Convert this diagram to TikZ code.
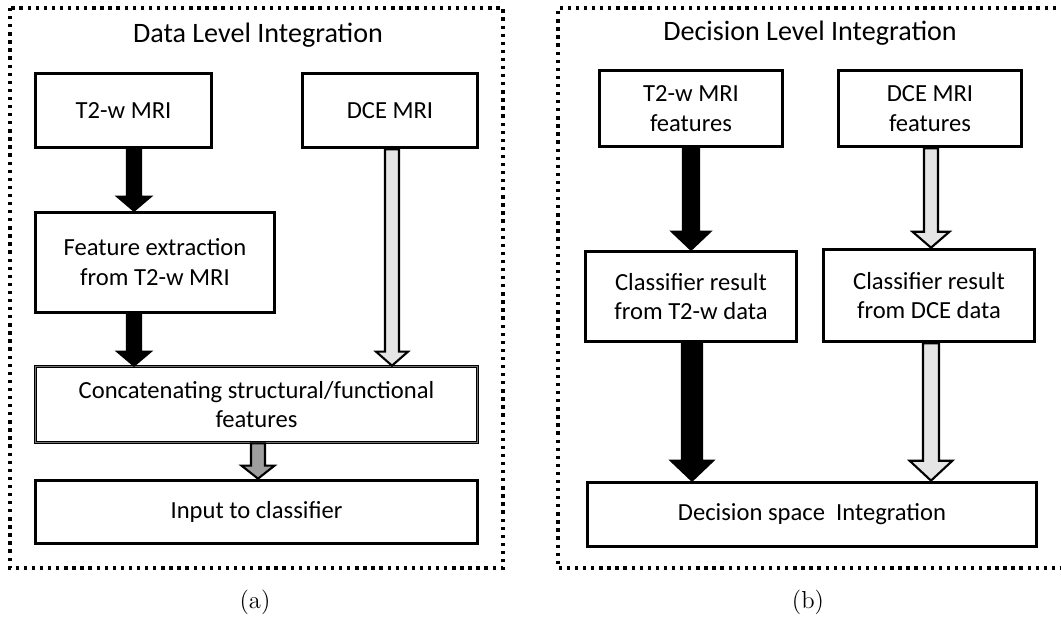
\documentclass[tikz,border=0pt]{standalone}
\usepackage{fontspec}
\newfontfamily\boxfont{Carlito}
\usetikzlibrary{calc}

\def\pxu{0.5669pt}
% block arrow: [fill]{from}{to}{x}{shaft half}{head half}{head length}
\newcommand{\fatarrow}[7][black]{%
  \path[draw=black, line width=1.2pt, fill=#1]
    let \p1=(#2.south), \p2=(#3.north), \p3=(#4,0) in
    (\x3-#5*\pxu,\y1) -- (\x3-#5*\pxu,\y2+#7*\pxu) -- (\x3-#6*\pxu,\y2+#7*\pxu)
    -- (\x3,\y2) -- (\x3+#6*\pxu,\y2+#7*\pxu) -- (\x3+#5*\pxu,\y2+#7*\pxu)
    -- (\x3+#5*\pxu,\y1) -- cycle;}

\tikzset{
  stage/.style={draw, line width=1.7pt, fill=white, align=center, inner sep=0pt,
    font=\boxfont\fontsize{14pt}{17pt}\selectfont},
  dims/.style 2 args={minimum width=#1*\pxu, minimum height=#2*\pxu},
  frame/.style={line width=1.9pt, dash pattern=on 1.9pt off 2.7pt},
  heading/.style={font=\boxfont\fontsize{16pt}{19pt}\selectfont},
  caption/.style={font=\fontsize{14pt}{17pt}\selectfont}
}

\begin{document}
\begin{tikzpicture}[x=0.02cm, y=-0.02cm]
  \useasboundingbox (0,0) rectangle (1061,621);

  % (a) data level
  \draw[frame] (10,8) rectangle (503,568);
  \node[heading] (titlea) at (258,35) {Data Level Integration};
  \node[stage, dims={177}{75}] (t2) at (123.5,110.5) {T2-w MRI};
  \node[stage, dims={176}{75}] (dce) at (390,110.5) {DCE MRI};
  \node[stage, dims={240}{101}] (feat) at (155,262.5)
    {Feature extraction\\from T2-w MRI};
  \node[stage, line width=0.6pt, double=black!55, double distance=0.6pt, dims={443}{77}] (concat)
    at (256.5,404.5) {Concatenating structural/functional\\features};
  \node[stage, dims={443}{64}] (input) at (256.5,512) {Input to classifier};
  \node[caption] (capa) at (255,602) {(a)};

  \fatarrow{t2}{feat}{134}{7}{16.5}{14}
  \fatarrow{feat}{concat}{134}{7}{16.5}{14}
  \fatarrow[black!10]{dce}{concat}{392}{7}{16}{14}
  \fatarrow[black!38]{concat}{input}{258}{7}{16.5}{13}

  % (b) decision level
  \draw[frame] (1064,8) -- (558,8) -- (558,568) -- (1064,568);
  \node[heading] (titleb) at (810,33) {Decision Level Integration};
  \node[stage, dims={184}{77}] (t2f) at (691,108.5) {T2-w MRI\\features};
  \node[stage, dims={184}{77}] (dcef) at (930,108.5) {DCE MRI\\features};
  \node[stage, dims={212}{91}] (clst) at (691,296.5)
    {Classifier result\\from T2-w data};
  \node[stage, dims={212}{93}] (clsd) at (929,295.5)
    {Classifier result\\from DCE data};
  \node[stage, dims={450}{65}] (dec) at (812,514.5)
    {Decision space~~Integration};
  \node[caption] (capb) at (808,602) {(b)};

  \fatarrow{t2f}{clst}{691}{8}{19}{18}
  \fatarrow{clst}{dec}{692}{10}{21}{20}
  \fatarrow[black!10]{dcef}{clsd}{931}{7}{18.5}{16}
  \fatarrow[black!10]{clsd}{dec}{931}{8}{21.5}{20}
\end{tikzpicture}
\end{document}
